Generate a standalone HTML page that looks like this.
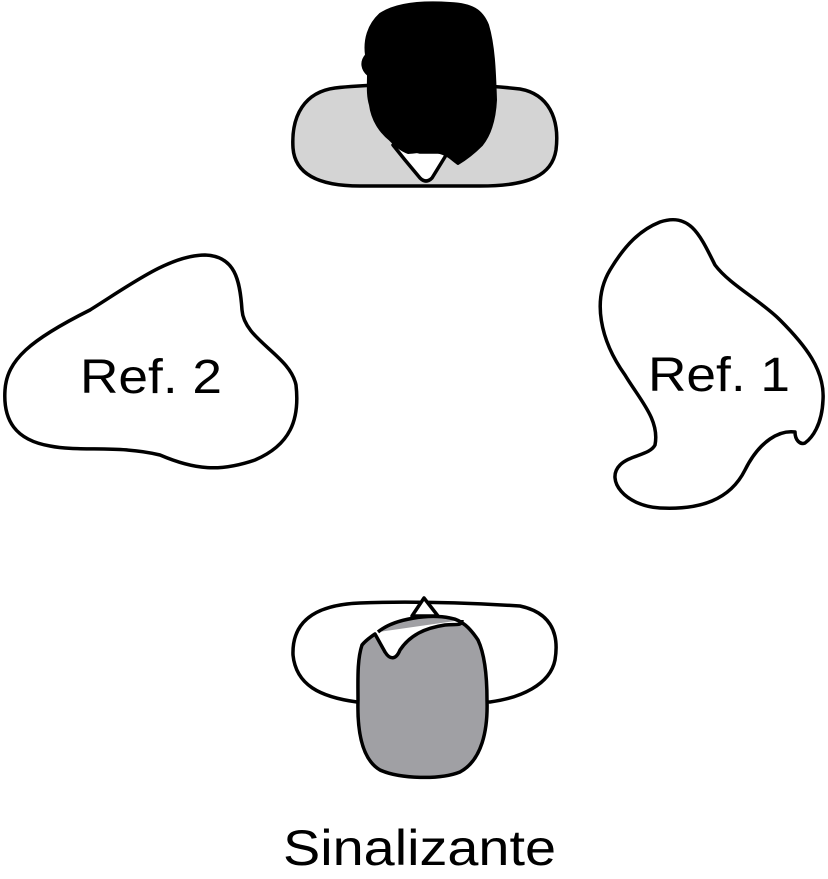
<!DOCTYPE html>
<html><head><style>
html,body{margin:0;padding:0;background:#fff;}
svg{display:block}
text{font-family:"Liberation Sans",sans-serif;}
</style></head><body>
<svg width="828" height="879" viewBox="0 0 828 879" xmlns="http://www.w3.org/2000/svg">
<g stroke="#000" stroke-width="3.5" stroke-linejoin="round">
<path d="M335,88 C380,83 470,83 520,89 C548,94 560,118 556,150 C552,175 530,186 480,186 L360,186 C320,186 295,175 293,148 C291,115 305,92 335,88 Z" fill="#d4d4d4"/>
<path d="M393,145 L420,152 L448,152 L432,178 Q426,184 420,178 L405,160 Z" fill="#fff"/>
<path d="M380,14 C395,4 420,1 450,3 C472,4 482,10 488,25 C494,45 495,70 496,100 C495,120 490,135 482,145 C475,152 468,158 458,164 C452,160 448,155 440,153 C430,150 420,152 408,153 C400,150 395,145 390,140 C380,132 372,120 370,105 C367,95 368,85 368,75 C362,70 360,62 366,55 C364,40 368,25 380,14 Z" fill="#000" stroke-width="2"/>
<path d="M360,603 C410,601 470,603 520,606 C548,612 560,630 555,660 C550,685 520,698 490,702 L357,702 C320,697 296,685 293,655 C292,625 310,605 360,603 Z" fill="#fff"/>
<path d="M412,616 L424,598 L438,616 Z" fill="#fff"/>
<path d="M378,632 C395,618 430,614 450,618 C462,620 470,628 478,640 C485,655 487,680 487,700 C488,730 482,760 460,772 C440,780 400,779 380,770 C363,760 357,735 358,700 C358,680 357,660 362,645 C366,640 372,636 375,634 L385,652 C390,660 396,660 400,650 C410,635 425,628 445,625 C458,624 462,626 462,620" fill="#a0a0a4"/>
<path d="M90,310 C130,285 170,255 205,255 C235,256 240,280 242,310 C244,340 290,355 296,385 C300,420 290,445 255,460 C220,472 195,470 160,455 C120,445 80,452 50,446 C15,440 3,420 5,390 C7,360 30,340 90,310 Z" fill="#fff"/>
<path d="M660,222 C690,212 700,235 715,265 C730,285 760,300 780,320 C805,345 825,370 823,400 C822,425 812,438 805,443 C800,445 795,440 795,432 C780,430 760,440 745,470 C730,500 700,510 660,508 C625,506 605,480 620,465 C630,455 650,455 655,445 C660,420 640,400 625,375 C600,340 592,300 610,270 C625,245 640,230 660,222 Z" fill="#fff"/>
</g>
<text x="80" y="393" font-size="48" textLength="142" lengthAdjust="spacingAndGlyphs">Ref. 2</text>
<text x="648" y="391" font-size="48" textLength="142" lengthAdjust="spacingAndGlyphs">Ref. 1</text>
<text x="283" y="865" font-size="50" textLength="273" lengthAdjust="spacingAndGlyphs">Sinalizante</text>
</svg>
</body></html>
